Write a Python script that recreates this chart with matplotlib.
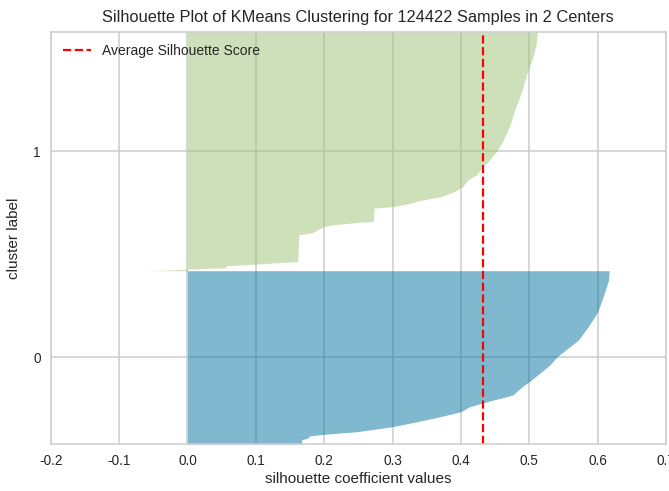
import numpy as np
import matplotlib
matplotlib.use("Agg")
import matplotlib.pyplot as plt

# silhouette profile of each cluster: sorted sample rank -> coefficient
cluster_labels = ["0", "1"]
cluster_sizes = [52300, 72122]

rank_0 = [0, 1350, 1650, 2105, 2500, 2920, 3705, 5216, 6726, 8237, 9747,
          11257, 12466, 14791, 17208, 18809, 21437, 23854, 26361, 31405,
          35936, 39863, 44998, 49529, 52300]
sil_0 = [0.167, 0.167, 0.175, 0.177, 0.180, 0.200, 0.248, 0.300, 0.336,
         0.370, 0.400, 0.413, 0.433, 0.476, 0.489, 0.500, 0.516, 0.530,
         0.541, 0.572, 0.588, 0.600, 0.609, 0.616, 0.617]

rank_1 = [0, 120, 300, 450, 700, 900, 1450, 2000, 2750, 10810, 11500,
          13130, 13830, 14640, 14830, 18880, 19360, 20180, 21170, 22380,
          23890, 25400, 27430, 28940, 31440, 32950, 35970, 38990, 44040,
          49180, 54100, 59140, 64280, 68200, 72122]
sil_1 = [-0.063, -0.040, -0.015, 0.000, 0.030, 0.056, 0.057, 0.100, 0.161,
         0.163, 0.183, 0.197, 0.212, 0.253, 0.272, 0.273, 0.301, 0.323,
         0.340, 0.372, 0.391, 0.403, 0.410, 0.423, 0.432, 0.440, 0.452,
         0.461, 0.472, 0.480, 0.489, 0.496, 0.505, 0.510, 0.512]

avg_score = 0.432
n_samples = 124422
colors = ["#0272A2", "#9FC377"]

plt.rcParams['font.family'] = ['Liberation Sans', 'DejaVu Sans']
plt.rcParams['text.color'] = '0.15'
plt.rcParams['axes.labelcolor'] = '0.15'
plt.rcParams['xtick.color'] = '0.15'
plt.rcParams['ytick.color'] = '0.15'

fig = plt.figure(figsize=(6.69, 4.91), dpi=100)
ax = fig.add_axes([50.7 / 669, 47 / 491, 615.3 / 669, 412.3 / 491])

y_lower = 10
ticks = []
for ranks, vals, size, col in zip([rank_0, rank_1], [sil_0, sil_1], cluster_sizes, colors):
    y = y_lower + np.array(ranks)
    ax.fill_betweenx(y, 0, vals, facecolor=col, edgecolor=col, alpha=0.5, linewidth=0)
    ticks.append(y_lower + 0.5 * size)
    y_lower = y_lower + size + 10

ax.axvline(x=avg_score, color="red", linestyle="--", linewidth=1.6,
           label="Average Silhouette Score")

ax.set_title("Silhouette Plot of KMeans Clustering for %d Samples in 2 Centers" % n_samples,
             fontsize=11.8, pad=7)
ax.set_xlim(-0.2, 0.7)
ax.set_ylim(0, n_samples + 3 * 10)
ax.set_xticks(np.arange(-0.2, 0.71, 0.1))
ax.set_xticklabels(["%.1f" % v for v in np.arange(-0.2, 0.71, 0.1)])
ax.set_yticks(ticks)
ax.set_yticklabels(cluster_labels)
ax.set_xlabel("silhouette coefficient values", fontsize=11, labelpad=3)
ax.set_ylabel("cluster label", fontsize=11, labelpad=9)
ax.tick_params(length=0, pad=7, labelsize=9.8)

ax.set_axisbelow(True)
ax.grid(True, color="0.8", linewidth=1.1)
for s in ax.spines.values():
    s.set_color("0.8")
    s.set_linewidth(1.1)

ax.legend(loc="upper left", frameon=False, fontsize=10)

fig.savefig("out.png", dpi=100)
